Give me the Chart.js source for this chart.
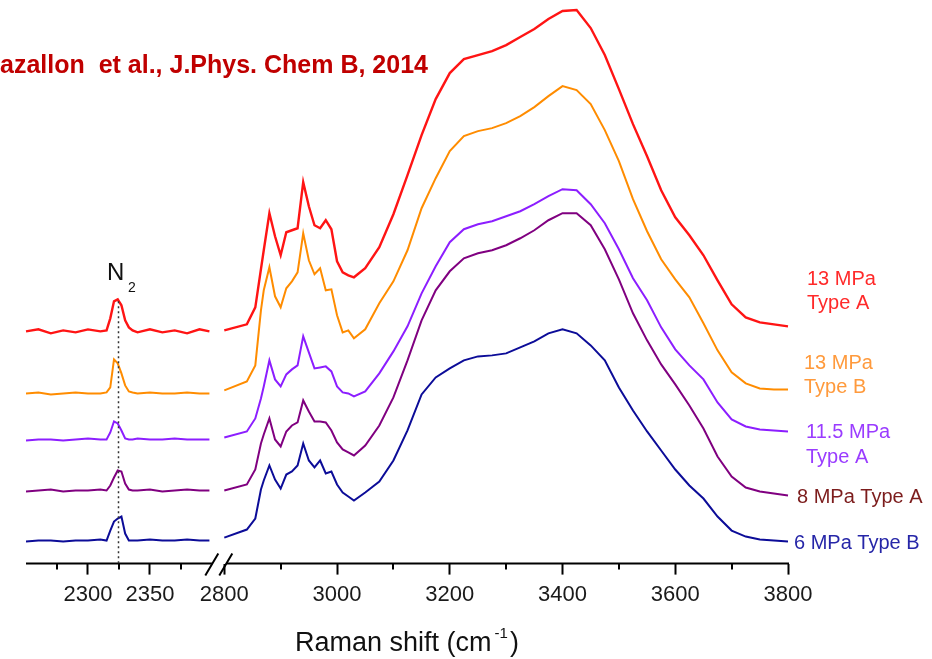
<!DOCTYPE html>
<html>
<head>
<meta charset="utf-8">
<script src="https://cdn.jsdelivr.net/npm/chart.js@4.4.1/dist/chart.umd.min.js"></script>
<style>
  html, body { margin: 0; padding: 0; background: #fff; }
  #wrap { position: relative; width: 932px; height: 659px; }
</style>
</head>
<body>
<div id="wrap"><canvas id="chart" width="932" height="659"></canvas></div>
<script>
// -----------------------------------------------------------------------------
// Data. Intensities are in arbitrary, already-offset units.
// -----------------------------------------------------------------------------

// N2 window (left panel), Raman shift in cm-1
const shiftN2 = [2250, 2260, 2270, 2280, 2290, 2300, 2310, 2315, 2318, 2321, 2324,
  2327, 2330, 2333, 2336, 2340, 2350, 2360, 2370, 2380, 2390, 2398];

// C-H / O-H window (right panel), Raman shift in cm-1
const shiftCH = [2800, 2840, 2855, 2865, 2870, 2880, 2890, 2900, 2910, 2920,
  2930, 2940, 2950, 2960, 2970, 2980, 2990, 3000, 3010, 3020,
  3030, 3050, 3075, 3100, 3125, 3150, 3175, 3200, 3225, 3250,
  3275, 3300, 3325, 3350, 3375, 3400, 3425, 3450, 3475, 3500,
  3525, 3550, 3575, 3600, 3625, 3650, 3675, 3700, 3725, 3750,
  3775, 3800, 3810];

const seriesNames = ['13 MPa Type A', '13 MPa Type B', '11.5 MPa Type A', '8 MPa Type A', '6 MPa Type B'];

const n2_13A = [232, 234, 230, 233, 231, 234, 232, 233, 245, 262, 264, 258, 243, 236, 233, 231, 234, 231, 233, 230, 234, 232];
const n2_13B = [170, 171, 169, 170, 171, 170, 170, 171, 176, 204, 200, 190, 178, 172, 171, 170, 171, 170, 170, 171, 170, 170];
const n2_115A = [123, 124, 124, 123, 124, 125, 124, 124, 131, 142, 140, 133, 125, 124, 124, 125, 124, 124, 125, 124, 124, 124];
const n2_8A = [72, 73, 74, 72, 73, 73, 74, 73, 78, 86, 93, 92, 80, 74, 73, 73, 74, 72, 73, 74, 73, 73];
const n2_6B = [22, 23, 23, 22, 23, 23, 24, 23, 33, 42, 45, 47, 30, 23, 23, 23, 24, 23, 23, 24, 23, 23];

const ch_13A = [233, 239, 256, 294, 313, 350, 327, 308, 331, 333,
  335, 381, 357, 338, 335, 343, 334, 302, 291, 288,
  286, 295, 316, 349, 388, 428, 464, 490, 504, 508,
  512, 518, 526, 534, 544, 552, 553, 535, 508, 474,
  439, 407, 373, 346, 328, 308, 283, 259, 246, 241,
  239, 237, 236];
const ch_13B = [173, 182, 198, 253, 273, 296, 267, 256, 275, 282,
  291, 330, 303, 289, 295, 273, 274, 248, 231, 233,
  225, 234, 260, 282, 313, 355, 385, 412, 427, 432,
  435, 440, 447, 456, 467, 477, 473, 459, 433, 402,
  364, 332, 304, 284, 266, 240, 213, 191, 180, 175,
  174, 174, 174];
const ch_115A = [126, 132, 145, 165, 177, 203, 184, 177, 189, 194,
  198, 227, 211, 195, 196, 197, 192, 177, 171, 170,
  167, 172, 190, 212, 237, 270, 297, 321, 334, 339,
  342, 347, 352, 359, 367, 374, 373, 359, 340, 314,
  285, 263, 236, 214, 198, 184, 161, 144, 137, 134,
  133, 132, 132];
const ch_8A = [73, 79, 94, 120, 129, 145, 124, 117, 132, 138,
  141, 163, 152, 142, 142, 141, 133, 121, 114, 111,
  108, 118, 138, 166, 203, 243, 273, 292, 305, 310,
  313, 318, 325, 333, 343, 350, 350, 338, 314, 284,
  250, 223, 199, 179, 158, 135, 107, 87, 76, 72,
  70, 68, 68];
const ch_6B = [26, 34, 45, 74, 83, 98, 84, 75, 89, 92,
  98, 120, 103, 96, 103, 90, 92, 79, 71, 67,
  63, 71, 82, 103, 133, 169, 186, 195, 203, 207,
  208, 210, 216, 222, 230, 234, 230, 218, 203, 176,
  153, 132, 113, 94, 78, 65, 47, 33, 27, 24,
  23, 22, 22];

// axis ticks
const ticksN2 = [2300, 2350];
const minorN2 = [2275, 2325, 2375];
const ticksCH = [2800, 3000, 3200, 3400, 3600, 3800];
const minorCH = [2900, 3100, 3300, 3500, 3700];
const n2Position = 2324;

// -----------------------------------------------------------------------------
// Styling
// -----------------------------------------------------------------------------

const FONT = '"Liberation Sans", Arial, sans-serif';
const lineColors = ['#ff1414', '#ff8c00', '#8c1eff', '#800080', '#0c0c98'];
const n2Sets = [n2_13A, n2_13B, n2_115A, n2_8A, n2_6B];
const chSets = [ch_13A, ch_13B, ch_115A, ch_8A, ch_6B];

function points(xs, ys) {
  return xs.map((x, i) => ({ x, y: ys[i] }));
}

const datasets = [];
seriesNames.forEach((name, i) => {
  const common = {
    borderColor: lineColors[i],
    backgroundColor: 'transparent',
    borderWidth: i === 0 ? 2.4 : 2,
    pointRadius: 0,
    tension: 0,
    clip: false,
  };
  datasets.push({ label: name + ' (N2)', data: points(shiftN2, n2Sets[i]), xAxisID: 'xN2', ...common });
  datasets.push({ label: name, data: points(shiftCH, chSets[i]), xAxisID: 'xCH', ...common });
});

// -----------------------------------------------------------------------------
// Decorations: axis line with break, minor ticks, N2 marker, labels, titles
// -----------------------------------------------------------------------------

const decorPlugin = {
  id: 'decor',
  afterDraw(chart) {
    const { ctx, chartArea, scales } = chart;
    const xL = scales.xN2;
    const xR = scales.xCH;
    const y = scales.y;
    const base = chartArea.bottom;
    ctx.save();

    // broken axis line
    ctx.strokeStyle = '#000';
    ctx.lineWidth = 2;
    ctx.beginPath();
    ctx.moveTo(xL.left, base);
    ctx.lineTo(xL.getPixelForValue(2400), base);
    ctx.moveTo(xR.left + 2, base);
    ctx.lineTo(xR.right + 1, base);
    ctx.stroke();

    // break marks
    const bx = xR.left;
    ctx.beginPath();
    ctx.moveTo(bx - 19, base + 12); ctx.lineTo(bx - 6, base - 10);
    ctx.moveTo(bx - 5, base + 12); ctx.lineTo(bx + 8, base - 10);
    ctx.stroke();

    // minor ticks
    ctx.beginPath();
    for (const v of minorN2) {
      const px = Math.round(xL.getPixelForValue(v));
      ctx.moveTo(px, base); ctx.lineTo(px, base + 6);
    }
    for (const v of minorCH) {
      const px = Math.round(xR.getPixelForValue(v));
      ctx.moveTo(px, base); ctx.lineTo(px, base + 6);
    }
    ctx.stroke();

    // dotted N2 marker
    const nx = Math.round(xL.getPixelForValue(n2Position)) + 0.5;
    ctx.strokeStyle = '#333';
    ctx.lineWidth = 1.5;
    ctx.setLineDash([2, 3]);
    ctx.beginPath();
    ctx.moveTo(nx, y.getPixelForValue(262));
    ctx.lineTo(nx, base);
    ctx.stroke();
    ctx.setLineDash([]);

    // N2 label
    ctx.fillStyle = '#111';
    ctx.textBaseline = 'alphabetic';
    ctx.textAlign = 'left';
    ctx.font = '24px ' + FONT;
    ctx.fillText('N', 107, 280);
    ctx.font = '14px ' + FONT;
    ctx.fillText('2', 128, 292);

    // series labels
    ctx.font = '20px ' + FONT;
    const labels = [
      { text: '13 MPa', color: '#ff2a2a', x: 807, y: 285 },
      { text: 'Type A', color: '#ff2a2a', x: 807, y: 309 },
      { text: '13 MPa', color: '#ff9a3c', x: 804, y: 369 },
      { text: 'Type B', color: '#ff9a3c', x: 804, y: 393 },
      { text: '11.5 MPa', color: '#9a3cff', x: 806, y: 438 },
      { text: 'Type A', color: '#9a3cff', x: 806, y: 463 },
      { text: '8 MPa Type A', color: '#7c1c1c', x: 797, y: 503 },
      { text: '6 MPa Type B', color: '#2626a8', x: 794, y: 549 },
    ];
    for (const l of labels) {
      ctx.fillStyle = l.color;
      ctx.fillText(l.text, l.x, l.y);
    }

    // reference line at the top
    ctx.fillStyle = '#c00000';
    ctx.font = 'bold 25px ' + FONT;
    ctx.fillText('azallon  et al., J.Phys. Chem B, 2014', 0, 73);

    // x-axis title with superscript
    ctx.fillStyle = '#111';
    ctx.font = '27px ' + FONT;
    let tx = 295;
    const main = 'Raman shift (cm';
    ctx.fillText(main, tx, 651);
    tx += ctx.measureText(main).width + 3;
    ctx.font = '15px ' + FONT;
    ctx.fillText('-1', tx, 638);
    tx += ctx.measureText('-1').width + 2;
    ctx.font = '27px ' + FONT;
    ctx.fillText(')', tx, 651);

    ctx.restore();
  },
};

function axisOptions(min, max, weight, tickValues) {
  return {
    type: 'linear',
    position: 'bottom',
    stack: 'ramanAxis',
    stackWeight: weight,
    min,
    max,
    afterBuildTicks: (scale) => { scale.ticks = tickValues.map((v) => ({ value: v })); },
    // edge labels may overhang; don't let them shrink the plot area
    afterFit: (scale) => { scale.paddingLeft = 0; scale.paddingRight = 0; },
    border: { display: false },
    grid: { drawOnChartArea: false, drawTicks: true, tickLength: 11, tickWidth: 2, tickColor: '#000' },
    ticks: {
      autoSkip: false,
      maxRotation: 0,
      padding: 7,
      color: '#1a1a1a',
      font: { family: FONT, size: 22 },
      callback: (v) => String(v),
    },
  };
}

new Chart(document.getElementById('chart'), {
  type: 'line',
  data: { datasets },
  plugins: [decorPlugin],
  options: {
    responsive: false,
    animation: false,
    layout: { padding: { left: 26, right: 144, top: 0, bottom: 44 } },
    plugins: { legend: { display: false }, tooltip: { enabled: false } },
    scales: {
      xN2: axisOptions(2250, 2410, 198.4, ticksN2),
      xCH: axisOptions(2800, 3800, 564, ticksCH),
      y: { display: false, min: 0, max: 563 },
    },
  },
});
</script>
</body>
</html>
